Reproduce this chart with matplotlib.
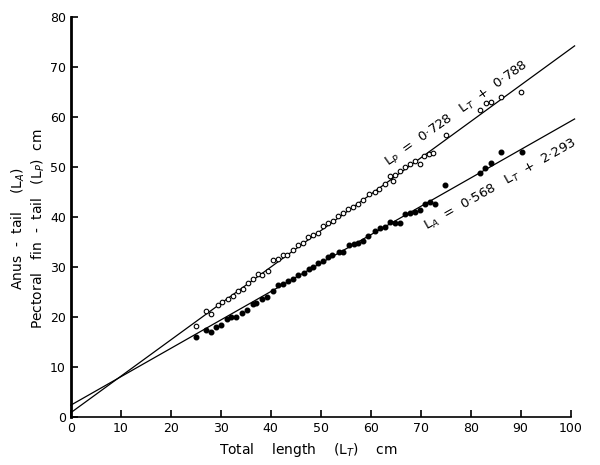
import numpy as np
import matplotlib
matplotlib.use('Agg')
import matplotlib.pyplot as plt

# pectoral fin - tail length (open circles)
lp_x = [25.1, 27.1, 28.1, 29.5, 30.3, 31.5, 32.5, 33.5, 34.5, 35.5, 36.5, 37.5, 38.3, 39.5,
        40.5, 41.5, 42.5, 43.3, 44.5, 45.5, 46.5, 47.5, 48.5, 49.5, 50.5, 51.5, 52.5, 53.5,
        54.5, 55.5, 56.5, 57.5, 58.5, 59.7, 60.8, 61.7, 62.8, 63.9, 64.5, 64.8, 65.8, 66.8,
        67.8, 68.8, 69.9, 70.6, 71.6, 72.4, 75.0, 81.9, 83.1, 84.0, 86.1, 90.1]
lp_y = [18.1, 21.2, 20.5, 22.3, 22.9, 23.6, 24.1, 25.2, 25.6, 26.7, 27.6, 28.5, 28.3, 29.1,
        31.3, 31.5, 32.3, 32.4, 33.3, 34.3, 34.8, 36.0, 36.4, 36.7, 38.1, 38.8, 39.2, 40.1,
        40.7, 41.6, 42.0, 42.6, 43.3, 44.5, 45.0, 45.6, 46.6, 48.1, 47.2, 48.4, 49.2, 49.9,
        50.6, 51.2, 50.5, 52.2, 52.5, 52.8, 56.3, 61.3, 62.8, 63.0, 64.0, 64.9]

# anus - tail length (filled dots)
la_x = [25.1, 27.1, 28.1, 29.1, 30.1, 31.3, 32.1, 33.0, 34.3, 35.3, 36.5, 37.1, 38.3, 39.3,
        40.5, 41.5, 42.5, 43.5, 44.5, 45.5, 46.6, 47.7, 48.5, 49.5, 50.5, 51.5, 52.3, 53.7,
        54.5, 55.7, 56.6, 57.5, 58.5, 59.5, 60.8, 61.8, 62.8, 63.8, 64.8, 65.8, 66.8, 67.8,
        68.8, 69.8, 70.8, 71.9, 72.8, 74.8, 81.9, 82.9, 84.0, 86.0, 90.2]
la_y = [16.0, 17.3, 17.0, 17.9, 18.3, 19.5, 19.9, 20.0, 20.8, 21.3, 22.5, 22.8, 23.5, 23.9,
        25.2, 26.3, 26.5, 27.2, 27.6, 28.3, 28.7, 29.6, 29.9, 30.7, 31.1, 32.0, 32.4, 32.9,
        32.9, 34.3, 34.5, 34.8, 35.2, 36.1, 37.2, 37.7, 38.0, 39.0, 38.7, 38.8, 40.5, 40.7,
        41.0, 41.3, 42.5, 43.0, 42.5, 46.3, 48.8, 49.7, 50.7, 52.9, 52.9]

# regression lines
lp_slope, lp_icpt = 0.728, 0.788
la_slope, la_icpt = 0.568, 2.293
fit_x = np.array([0, 100.8])

fig = plt.figure(figsize=(6, 4.65), dpi=100)
ax = fig.add_axes([0.118, 0.104, 0.833, 0.860])

ax.plot(fit_x, lp_slope * fit_x + lp_icpt, color='black', lw=0.9)
ax.plot(fit_x, la_slope * fit_x + la_icpt, color='black', lw=0.9)
ax.plot(lp_x, lp_y, 'o', mfc='white', mec='black', ms=3.3, mew=0.8)
ax.plot(la_x, la_y, 'o', color='black', ms=3.3)

ax.text(77.3, 60.6, 'L$_P$  =  0·728   L$_T$  +  0·788', rotation=35.5,
        ha='center', va='center', fontsize=9.5, rotation_mode='anchor')
ax.text(86.0, 46.4, 'L$_A$  =  0·568   L$_T$  +  2·293', rotation=29.5,
        ha='center', va='center', fontsize=9.5, rotation_mode='anchor')

ax.set_xlim(0, 100)
ax.set_ylim(0, 80)
ax.set_xticks(range(0, 101, 10))
ax.set_yticks(range(0, 81, 10))
ax.tick_params(direction='in', length=5, width=1.2, labelsize=9, colors='black')
ax.spines['top'].set_visible(False)
ax.spines['right'].set_visible(False)
ax.spines['left'].set_linewidth(2)
ax.spines['bottom'].set_linewidth(1.2)
for l in ax.lines:
    l.set_clip_on(False)

ax.set_xlabel('Total    length    (L$_T$)    cm', fontsize=10, labelpad=3)
ax.xaxis.set_label_coords(0.475, -0.06)
ax.set_ylabel('Anus  -  tail    (L$_A$)\nPectoral   fin  -  tail   (L$_P$)  cm',
              fontsize=10, linespacing=1.15)
ax.yaxis.set_label_coords(-0.048, 0.47)

fig.savefig('out.png', dpi=100)
